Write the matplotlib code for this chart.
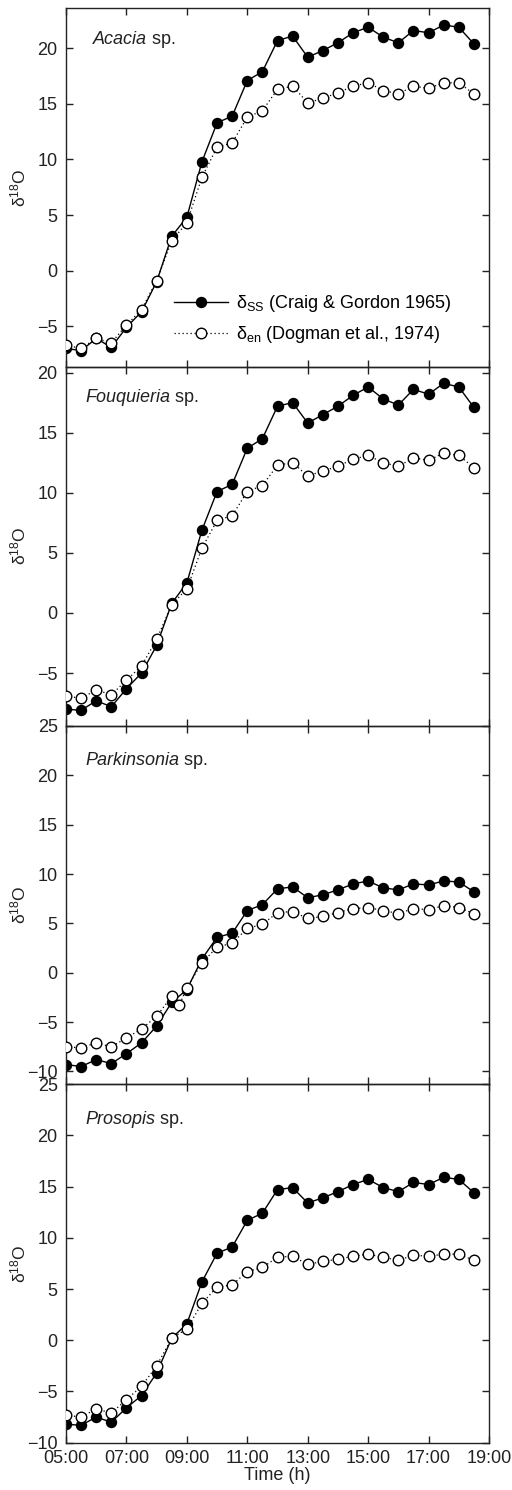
import matplotlib
matplotlib.use("Agg")
import matplotlib.pyplot as plt
from matplotlib.lines import Line2D

plt.rcParams['font.family'] = ['Liberation Sans', 'DejaVu Sans']
plt.rcParams['mathtext.fontset'] = 'custom'
plt.rcParams['mathtext.rm'] = 'Liberation Sans'
plt.rcParams['mathtext.it'] = 'Liberation Sans:italic'

# ---------------- data ----------------
hours = [5.0, 5.5, 6.0, 6.5, 7.0, 7.5, 8.0, 8.5, 9.0, 9.5, 10.0, 10.5, 11.0, 11.5,
         12.0, 12.5, 13.0, 13.5, 14.0, 14.5, 15.0, 15.5, 16.0, 16.5, 17.0, 17.5, 18.0, 18.5]
hours_park_en = [5.0, 5.5, 6.0, 6.5, 7.0, 7.5, 8.0, 8.5, 8.75, 9.0, 9.5, 10.0, 10.5, 11.0, 11.5,
                 12.0, 12.5, 13.0, 13.5, 14.0, 14.5, 15.0, 15.5, 16.0, 16.5, 17.0, 17.5, 18.0, 18.5]

species = ['Acacia', 'Fouquieria', 'Parkinsonia', 'Prosopis']

acacia_ss = [-7.0, -7.2, -6.1, -6.9, -5.1, -3.7, -1.0, 3.1, 4.8, 9.8, 13.3, 13.9, 17.1, 17.9,
             20.7, 21.1, 19.2, 19.8, 20.5, 21.4, 21.9, 21.0, 20.5, 21.6, 21.4, 22.1, 21.9, 20.4]
acacia_en = [-6.7, -7.0, -6.1, -6.5, -4.9, -3.5, -0.9, 2.7, 4.3, 8.4, 11.1, 11.5, 13.8, 14.4,
             16.3, 16.6, 15.1, 15.5, 16.0, 16.6, 16.9, 16.2, 15.9, 16.6, 16.4, 16.9, 16.9, 15.9]

fouq_ss = [-8.0, -8.1, -7.3, -7.8, -6.3, -5.0, -2.7, 0.8, 2.5, 6.9, 10.1, 10.7, 13.7, 14.5,
           17.2, 17.5, 15.8, 16.5, 17.2, 18.1, 18.8, 17.8, 17.3, 18.6, 18.2, 19.1, 18.8, 17.1]
fouq_en = [-6.9, -7.1, -6.4, -6.8, -5.6, -4.4, -2.2, 0.7, 2.0, 5.4, 7.7, 8.1, 10.1, 10.6,
           12.3, 12.5, 11.4, 11.8, 12.2, 12.8, 13.1, 12.5, 12.2, 12.9, 12.7, 13.3, 13.1, 12.1]

park_ss = [-9.3, -9.5, -8.8, -9.2, -8.2, -7.1, -5.4, -3.0, -1.7, 1.4, 3.6, 4.0, 6.3, 6.9,
           8.5, 8.7, 7.6, 7.9, 8.4, 9.0, 9.3, 8.6, 8.4, 9.0, 8.9, 9.3, 9.2, 8.2]
park_en = [-7.5, -7.6, -7.1, -7.5, -6.6, -5.7, -4.4, -2.4, -3.3, -1.5, 1.0, 2.6, 3.0, 4.5, 4.9,
           6.1, 6.2, 5.5, 5.7, 6.1, 6.5, 6.6, 6.3, 6.0, 6.5, 6.4, 6.8, 6.6, 6.0]

pros_ss = [-8.2, -8.3, -7.5, -8.0, -6.6, -5.4, -3.2, 0.2, 1.6, 5.7, 8.5, 9.1, 11.7, 12.4,
           14.7, 14.9, 13.4, 13.9, 14.5, 15.2, 15.7, 14.9, 14.5, 15.4, 15.2, 15.9, 15.7, 14.4]
pros_en = [-7.3, -7.5, -6.7, -7.1, -5.8, -4.5, -2.5, 0.2, 1.1, 3.6, 5.2, 5.4, 6.7, 7.1,
           8.1, 8.2, 7.4, 7.7, 7.9, 8.2, 8.4, 8.1, 7.8, 8.3, 8.2, 8.4, 8.4, 7.8]

xtick_hours = [5, 7, 9, 11, 13, 15, 17, 19]
xtick_labels = ['05:00', '07:00', '09:00', '11:00', '13:00', '15:00', '17:00', '19:00']
ytick_values = [-10, -5, 0, 5, 10, 15, 20, 25]

legend_labels = [r'δ$_{\mathrm{SS}}$ (Craig & Gordon 1965)',
                 r'δ$_{\mathrm{en}}$ (Dogman et al., 1974)']

# ---------------- layout ----------------
panels = [
    (species[0], hours, acacia_ss, hours, acacia_en, (-8.66, 23.6), 0.064, 0.914),
    (species[1], hours, fouq_ss, hours, fouq_en, (-9.36, 20.47), 0.045, 0.916),
    (species[2], hours, park_ss, hours_park_en, park_en, (-11.28, 25.05), 0.045, 0.902),
    (species[3], hours, pros_ss, hours, pros_en, (-10, 25), 0.045, 0.902),
]

W, H = 512, 1490
fig = plt.figure(figsize=(W / 100, H / 100), dpi=100)
left = 66 / W
width = (489 - 66) / W
top_px = 8.3
bot_px = 1442.7
ph = (bot_px - top_px) / 4
ink = '#222222'
dotted = (0, (1, 2.2))

axes = []
for i, (name, xs, ss, xe, en, ylim, tx, ty) in enumerate(panels):
    y0 = 1 - (top_px + (i + 1) * ph) / H
    ax = fig.add_axes([left, y0, width, ph / H])
    axes.append(ax)
    ax.patch.set_alpha(0)
    ax.plot(xe, en, linestyle=dotted, color='black', lw=0.9,
            marker='o', ms=7.6, mfc='white', mec='black', mew=1.0, zorder=3)
    ax.plot(xs, ss, linestyle='-', color='black', lw=1.0,
            marker='o', ms=7.2, mfc='black', mec='black', zorder=2)
    ax.set_xticks(xtick_hours)
    ax.set_yticks(ytick_values)
    ax.set_xlim(5, 19)
    ax.set_ylim(*ylim)
    ax.tick_params(direction='in', length=5, width=1, top=True, right=True,
                   labelsize=13, colors=ink, pad=6)
    ax.tick_params(axis='x', pad=5)
    if i < 3:
        ax.set_xticklabels([])
    else:
        ax.set_xticklabels(xtick_labels)
        ax.set_xlabel('Time (h)', fontsize=13, labelpad=0, color=ink)
    for s in ax.spines.values():
        s.set_linewidth(1.0)
        s.set_color(ink)
    ax.set_ylabel(r'δ$^{18}$O', fontsize=12.5, color=ink)
    ax.yaxis.set_label_coords(-0.088, 0.5)
    t = ax.text(tx, ty, name, style='italic', fontsize=13, transform=ax.transAxes,
                ha='left', va='center', color=ink)
    fig.canvas.draw()
    bb = t.get_window_extent()
    x_end = ax.transAxes.inverted().transform((bb.x1, bb.y0))[0]
    ax.text(x_end, ty, ' sp.', fontsize=13, transform=ax.transAxes,
            ha='left', va='center', color=ink)

handles = [
    Line2D([], [], linestyle='-', color='black', lw=1.0, marker='o', ms=7.2,
           mfc='black', mec='black'),
    Line2D([], [], linestyle=dotted, color='black', lw=0.9, marker='o', ms=7.6,
           mfc='white', mec='black'),
]
axes[0].legend(handles, legend_labels, loc='upper left', bbox_to_anchor=(0.255, 0.205),
               frameon=False, fontsize=13, handlelength=3.0, handletextpad=0.45,
               labelspacing=0.55, borderpad=0, borderaxespad=0)

fig.savefig('out.png', dpi=100)
